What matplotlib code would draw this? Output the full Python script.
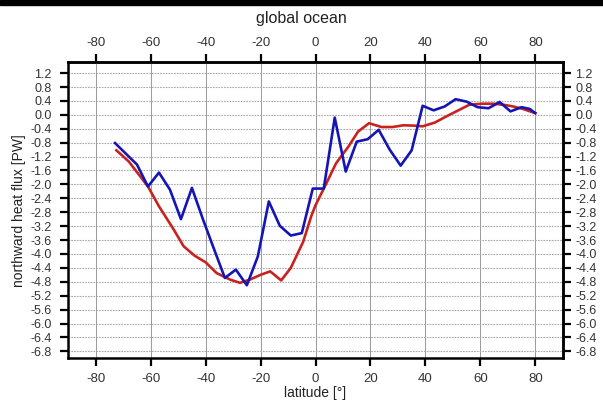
import numpy as np
import matplotlib.pyplot as plt
from matplotlib.patches import Rectangle

plt.rcParams['font.family'] = ['Liberation Sans', 'DejaVu Sans']
plt.rcParams['axes.unicode_minus'] = False

# model heat transport (blue) and reference estimate (red)
lat_blue = [-73, -69, -65, -61, -57, -53, -49, -45, -41, -37, -33, -29, -25,
            -21, -17, -13, -9, -5, -1, 3, 7, 11, 15, 19, 23, 27, 31, 35, 39,
            43, 47, 51, 55, 59, 63, 67, 71, 75, 78, 80]
flux_blue = [-0.81, -1.12, -1.43, -2.06, -1.66, -2.15, -3.0, -2.1, -3.0, -3.85,
             -4.69, -4.45, -4.9, -4.07, -2.49, -3.19, -3.47, -3.4, -2.12, -2.12,
             -0.08, -1.63, -0.77, -0.7, -0.43, -1.0, -1.46, -1.02, 0.26, 0.13,
             0.24, 0.45, 0.38, 0.22, 0.19, 0.37, 0.1, 0.22, 0.17, 0.05]

lat_red = [-72.5, -68, -61, -57, -52, -48, -44, -40, -36, -31, -27.5, -24, -20,
           -16.5, -12.5, -9, -4.5, -1.5, 0, 4, 7.5, 12, 15.5, 19.5, 24, 28,
           32, 36, 39, 43.5, 47.5, 52, 56, 60.5, 64.5, 68.5, 72, 75.5, 80]
flux_red = [-1.02, -1.34, -2.06, -2.63, -3.25, -3.78, -4.05, -4.24, -4.55, -4.74,
            -4.83, -4.74, -4.6, -4.5, -4.76, -4.4, -3.65, -2.9, -2.6, -1.96,
            -1.39, -0.91, -0.48, -0.24, -0.35, -0.35, -0.3, -0.31, -0.33, -0.22,
            -0.05, 0.13, 0.29, 0.32, 0.32, 0.29, 0.24, 0.17, 0.05]

xticks = np.arange(-80, 81, 20)
yticks = np.round(np.arange(-6.8, 1.21, 0.4), 1)
ylabels = [f'{v:.1f}' for v in yticks]

fig = plt.figure(figsize=(6.03, 4.03), dpi=100)
ax = fig.add_axes([0.1133, 0.1109, 0.8199, 0.7353])

ax.plot(lat_red, flux_red, color='#c8231e', lw=1.9, zorder=3)
ax.plot(lat_blue, flux_blue, color='#1515b5', lw=1.9, zorder=4)

ax.set_xlim(-90, 90)
ax.set_ylim(-7.0, 1.52)
ax.set_xticks(xticks)
ax.set_yticks(yticks)
ax.set_yticklabels(ylabels)

# vertical grid darker, horizontal grid finely dotted
ax.xaxis.grid(True, color='#999999', linestyle='-', lw=0.7)
ax.yaxis.grid(True, color='#a8a8a8', linestyle=(0, (1.5, 1)), lw=0.8)
ax.set_axisbelow(True)

tick_kw = dict(direction='out', length=5.5, width=1.6,
               colors='black', labelcolor='#333333')
ax.tick_params(axis='x', pad=5, labelsize=9.5, **tick_kw)
ax.tick_params(axis='y', pad=6.5, labelsize=9, **tick_kw)
for s in ax.spines.values():
    s.set_linewidth(1.8)

# duplicate scales on top and right
top = ax.secondary_xaxis('top')
top.set_xticks(xticks)
top.tick_params(pad=3.5, labelsize=9.5, **tick_kw)
right = ax.secondary_yaxis('right')
right.set_yticks(yticks)
right.set_yticklabels(ylabels)
right.tick_params(pad=3.5, labelsize=9, **tick_kw)
for sec in (top, right):
    for s in sec.spines.values():
        s.set_linewidth(1.8)

fig.text(0.5, 1 - 18 / 403, 'global ocean', ha='center', va='center',
         fontsize=11.5, color='#222222')
ax.set_xlabel('latitude [°]', fontsize=10, color='#222222', labelpad=1)
ax.set_ylabel('northward heat flux [PW]', fontsize=10, color='#222222', labelpad=3)

# dark strip along the top edge
fig.patches.append(Rectangle((0, 1 - 5 / 403), 1, 5 / 403, transform=fig.transFigure,
                             color='black', zorder=10))

fig.savefig('out.png', dpi=100)
